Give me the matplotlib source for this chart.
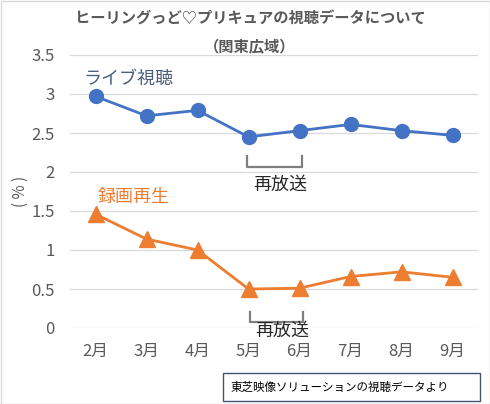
import matplotlib
matplotlib.use("Agg")
import matplotlib.pyplot as plt
from matplotlib.patches import Rectangle

plt.rcParams['font.family'] = ['Noto Sans CJK JP', 'DejaVu Sans']

months = ['2月', '3月', '4月', '5月', '6月', '7月', '8月', '9月']
live = [2.97, 2.72, 2.79, 2.45, 2.53, 2.61, 2.53, 2.47]
recorded = [1.46, 1.14, 1.00, 0.50, 0.51, 0.66, 0.72, 0.65]
yticks = [0, 0.5, 1, 1.5, 2, 2.5, 3, 3.5]
ytick_labels = ['0', '0.5', '1', '1.5', '2', '2.5', '3', '3.5']

W, H = 490, 404
fig = plt.figure(figsize=(W / 100, H / 100), dpi=100)
ax = fig.add_axes([70 / W, (H - 328) / H, (478 - 70) / W, (328 - 55) / H])

blue = '#4472C4'
orange = '#ED7D31'
gray = '#595959'

x = list(range(len(months)))
ax.plot(x, live, color=blue, lw=2.0, marker='o', markersize=10, zorder=3)
ax.plot(x, recorded, color=orange, lw=2.0, marker='^', markersize=12, zorder=3)

ax.set_xlim(-0.5, len(months) - 0.5)
ax.set_ylim(0, 3.5)
ax.set_yticks(yticks)
ax.set_yticklabels(ytick_labels)
ax.set_xticks(x)
ax.set_xticklabels(months)
ax.tick_params(axis='both', length=0, colors=gray, labelsize=12)
ax.tick_params(axis='y', pad=11)
ax.tick_params(axis='x', pad=11)
ax.grid(axis='y', color='#D9D9D9', lw=0.9)
ax.set_axisbelow(True)
for s in ax.spines.values():
    s.set_visible(False)

# series labels
ax.text(0.65, 3.19, 'ライブ視聴', color='#4E5F7E', fontsize=13, ha='center', va='center')
ax.text(0.75, 1.68, '録画再生', color=orange, fontsize=13, ha='center', va='center')

# brackets
bc = '#7F7F7F'
ax.plot([2.98, 2.98, 4.04, 4.04], [2.21, 2.06, 2.06, 2.21], color=bc, lw=1.6, clip_on=False)
ax.text(3.62, 1.83, '再放送', color='#262626', fontsize=13, ha='center', va='center')
ax.plot([3.02, 3.02, 4.07, 4.07], [0.21, 0.08, 0.08, 0.21], color=bc, lw=1.6, clip_on=False)
ax.text(3.66, -0.04, '再放送', color='#262626', fontsize=13, ha='center', va='center', clip_on=False)

# y label
fig.text(20 / W, (H - 191) / H, '( % )', rotation=90, color=gray, fontsize=11, ha='center', va='center')

# title
fig.text(250 / W, (H - 18.5) / H, 'ヒーリングっど♡プリキュアの視聴データについて', color=gray,
         fontsize=11, fontweight='bold', ha='center', va='center')
fig.text(250 / W, (H - 46) / H, '（関東広域）', color=gray,
         fontsize=11, fontweight='bold', ha='center', va='center')

# source box
fig.patches.append(Rectangle((223 / W, (H - 401) / H), 257 / W, 28 / H, transform=fig.transFigure,
                             fill=True, facecolor='white', edgecolor='#44546A', lw=1.0))
fig.text(231 / W, (H - 387) / H, '東芝映像ソリューションの視聴データより', color='black',
         fontsize=8.3, ha='left', va='center')

# outer border
fig.patches.append(Rectangle((0.5 / W, 0.5 / H), (W - 1) / W, (H - 1) / H, transform=fig.transFigure,
                             fill=False, edgecolor='#D9D9D9', lw=1.0))

fig.savefig('out.png', dpi=100)
